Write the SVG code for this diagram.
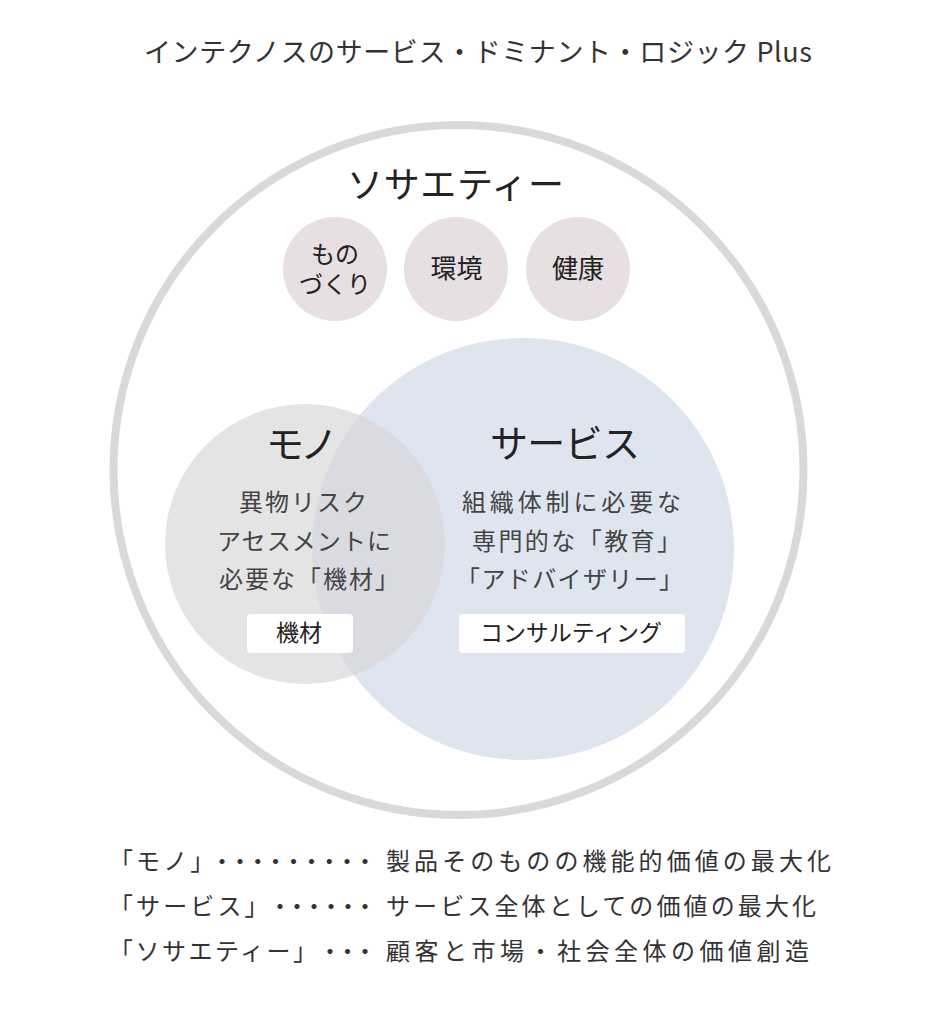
<svg xmlns="http://www.w3.org/2000/svg" width="941" height="1016" viewBox="0 0 941 1016">
<style>
text{font-family:"Noto Sans CJK JP","Noto Sans",sans-serif;}
.title{font-size:27px;fill:#333;}
.soc{font-size:36px;fill:#222;}
.head{font-size:38px;fill:#222;}
.body{font-size:24px;fill:#444;}
.tag{font-size:23px;fill:#222;text-anchor:middle;}
.pill{font-size:24px;fill:#222;text-anchor:middle;}
.pill2{font-size:26px;fill:#222;text-anchor:middle;}
.leg{font-size:24px;fill:#333;}
.lab{letter-spacing:3.1px;}
.box{fill:#fff;}
.small{fill:#e7dfe1;}
</style>
<defs>
<clipPath id="svcClip"><circle cx="523" cy="549" r="211"/></clipPath>
</defs>
<rect width="941" height="1016" fill="#fff"/>
<text class="title" x="144" y="62" textLength="668" lengthAdjust="spacing">インテクノスのサービス・ドミナント・ロジック Plus</text>
<g id="society">
<circle cx="458.5" cy="470" r="345" fill="none" stroke="#d9d9d9" stroke-width="8"/>
<text class="soc" x="455.5" y="198" text-anchor="middle" textLength="217" lengthAdjust="spacing">ソサエティー</text>
</g>
<g id="monozukuri">
<circle class="small" cx="335" cy="269" r="52"/>
<text class="pill"><tspan x="335" y="263">もの</tspan><tspan x="335" y="293">づくり</tspan></text>
</g>
<g id="kankyo">
<circle class="small" cx="456" cy="269" r="52"/>
<text class="pill2" x="456.5" y="278">環境</text>
</g>
<g id="kenko">
<circle class="small" cx="578" cy="269" r="52"/>
<text class="pill2" x="578" y="278">健康</text>
</g>
<g id="circles">
<circle cx="305" cy="544" r="140" fill="#e4e4e4"/>
<circle cx="523" cy="549" r="211" fill="#dfe5ee"/>
<circle cx="305" cy="544" r="140" fill="#dadbe0" clip-path="url(#svcClip)"/>
</g>
<g id="mono">
<text class="head" x="302" y="458" text-anchor="middle" textLength="72" lengthAdjust="spacing">モノ</text>
<text class="body" x="239" y="511" textLength="128" lengthAdjust="spacing">異物リスク</text>
<text class="body" x="217" y="550" textLength="174" lengthAdjust="spacing">アセスメントに</text>
<text class="body" x="219" y="588" textLength="180" lengthAdjust="spacing">必要な「機材」</text>
<rect class="box" x="247" y="614" width="106" height="39" rx="4"/>
<text class="tag" x="299" y="641" font-size="24">機材</text>
</g>
<g id="service">
<text class="head" x="565" y="457" text-anchor="middle" textLength="150" lengthAdjust="spacing">サービス</text>
<text class="body" x="462" y="511" textLength="219" lengthAdjust="spacing">組織体制に必要な</text>
<text class="body" x="472" y="550" textLength="209" lengthAdjust="spacing">専門的な「教育」</text>
<text class="body" x="456" y="588" textLength="227" lengthAdjust="spacing">「アドバイザリー」</text>
<rect class="box" x="459" y="614" width="226" height="39" rx="4"/>
<text class="tag" x="571" y="641" textLength="182" lengthAdjust="spacing">コンサルティング</text>
</g>
<g id="legend">
<text class="leg lab" x="109" y="870">「モノ」</text>
<text class="leg" x="210 227.9 245.8 263.6 281.5 299.4 317.3 335.1 353" y="870">・・・・・・・・・</text>
<text class="leg" x="386" y="870" textLength="445" lengthAdjust="spacing">製品そのものの機能的価値の最大化</text>
<text class="leg lab" x="109" y="915">「サービス」</text>
<text class="leg" x="268 285 302 319 336 353" y="915">・・・・・・</text>
<text class="leg" x="386" y="915" textLength="430" lengthAdjust="spacing">サービス全体としての価値の最大化</text>
<text class="leg" x="109" y="960" textLength="208" lengthAdjust="spacing">「ソサエティー」</text>
<text class="leg" x="318 335.5 353" y="960">・・・</text>
<text class="leg" x="386" y="960" textLength="423" lengthAdjust="spacing">顧客と市場・社会全体の価値創造</text>
</g>
</svg>
